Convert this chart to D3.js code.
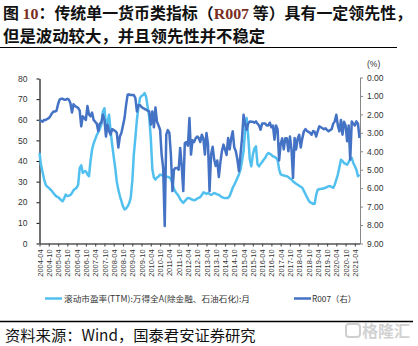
<!DOCTYPE html>
<html><head><meta charset="utf-8">
<script src="https://cdn.jsdelivr.net/npm/d3@7"></script>
<style>body{margin:0;background:#fff}svg{display:block}</style>
</head><body>
<script>
// Monthly values, 2004-04 .. 2021-07
const peValues = [
43.9,38,34.5,31,28.5,27.5,27,26.2,25.5,24.5,23.5,22.8,
22.5,21.8,21,20.5,22,23.7,23,23.2,23.5,24.5,25.8,26.5,
27,28.5,36.6,37.9,34.2,35,35,33.5,32.6,40,45.5,48.5,
50.5,52.5,54,55.5,57.6,64,65.6,57,59,62.4,54.4,48,
42,36.6,30,26,23,20.5,18,16.5,17,18,19.5,22.1,
30,43,51.1,60,66,70.5,71.5,72,72.9,71,66,61,
51.1,36,32,31,32,32.5,33.4,33.2,33,32.8,32.5,32.3,
32,31.4,29,26.5,25,24,23,21.5,20.5,19.7,20.5,21.5,
22.1,22,21.5,21.2,21,21.2,21.8,22.1,22.5,23.5,24.8,24.5,
24,24.5,24,23.6,24,24.5,24.2,23.8,23.6,23,22.5,22.2,
22,22.1,22.1,23,25,27,28.5,30,31.8,33.5,35.8,40,
44.7,55,60.8,52,41,37.4,43,46,47.1,38.5,37.4,38.5,
39.5,40.6,41.5,43,43.9,43.5,43,42.3,42,41.5,40.6,36,
33.5,33.2,33,32.8,32.6,32.2,31.5,31,30.2,29.5,29,28.5,
28,27.5,27,25.5,24,22.5,21,20,19.7,19.2,19.3,23.7,
26.1,26.3,26.5,26.5,26.8,27,27.4,27.8,27.8,27.4,27,28.5,
31,33.4,37,40.6,40,39,38.6,38.2,39.5,41,41.5,39,
37.5,35.8,32.6,33.4
];
const r007Values = [
2.29,2.35,2.4,2.3,2.3,2.25,2.2,2.1,1.95,1.85,1.85,1.8,
1.45,1.2,1.15,1.15,1.2,1.2,1.15,1.2,1.4,1.9,1.45,1.55,
1.6,1.65,1.8,2.65,2.1,2.2,2.3,1.55,2.0,2.1,1.9,2.3,
2.4,2.5,2.9,2.5,2.45,2.02,2.3,3.2,2.55,2.9,3.1,2.8,
2.85,2.9,3.0,3.8,3.2,3.0,2.6,2.2,1.5,0.94,0.92,0.95,
0.95,0.95,1.1,1.84,1.5,1.5,1.6,1.66,1.7,1.75,1.8,1.84,
2.56,1.84,2.7,1.62,2.4,2.6,2.83,4.18,4.9,8.05,3.1,2.85,
3.0,4.18,6.16,4.99,4.9,4.9,5.0,3.82,4.8,6.16,3.55,3.5,
3.7,2.2,4.18,3.4,3.5,3.3,3.2,3.28,3.5,3.1,3.3,4.18,
3.01,3.6,6.16,4.18,3.75,4.45,4.8,4.5,5.4,4.6,4.0,3.64,
3.9,4.2,3.28,3.9,3.3,2.92,3.8,4.0,4.45,5.08,4.2,3.3,
2.02,2.5,2.83,2.5,2.38,2.4,2.4,2.45,2.38,2.5,2.6,2.83,
2.5,2.5,2.5,2.6,2.6,2.45,2.7,2.6,3.37,2.6,2.8,4.5,
3.6,3.3,3.9,3.3,3.3,4.0,3.2,3.9,5.44,3.28,3.9,3.3,
3.1,3.8,3.3,2.92,2.8,2.9,2.95,3.0,3.1,2.9,2.95,3.2,
2.9,2.65,2.7,2.75,2.8,2.75,2.85,2.92,2.85,2.8,2.5,2.38,
2.02,2.6,2.92,2.3,3.1,2.4,2.6,3.46,2.6,4.45,2.38,2.5,
2.6,2.38,2.5,3.28
];
const tickLabels = ["2004-04","2004-10","2005-04","2005-10","2006-04","2006-10","2007-04","2007-10",
"2008-04","2008-10","2009-04","2009-10","2010-04","2010-10","2011-04","2011-10","2012-04","2012-10",
"2013-04","2013-10","2014-04","2014-10","2015-04","2015-10","2016-04","2016-10","2017-04","2017-10",
"2018-04","2018-10","2019-04","2019-10","2020-04","2020-10","2021-04"];
const leftTicks = [0,10,20,30,40,50,60,70,80];
const rightTicks = [0,1,2,3,4,5,6,7,8,9];
const seriesNames = ["滚动市盈率(TTM):万得全A(除金融、石油石化):月","R007（右）"];
const startYear = 2004, startMonth = 4;

const months = peValues.map((_, i) => {
  const t = (startMonth - 1) + i;
  return `${startYear + Math.floor(t / 12)}-${String(t % 12 + 1).padStart(2, "0")}`;
});

const W = 418, H = 346;
const svg = d3.select("body").append("svg").attr("width", W).attr("height", H);
svg.append("rect").attr("width", W).attr("height", H).attr("fill", "#fff");

const CJK = "'Noto Sans CJK SC','Noto Sans',sans-serif";
const SANS = "'Liberation Sans',Arial,sans-serif";

// Title
const t1 = svg.append("text").attr("x", 3).attr("y", 18.5)
  .attr("font-family", CJK).attr("font-weight", "bold").attr("font-size", 15.6).attr("fill", "#111")
  .attr("textLength", 409).attr("lengthAdjust", "spacingAndGlyphs");
t1.append("tspan").text("图 ");
t1.append("tspan").attr("font-family", "'Liberation Serif',serif").attr("fill", "#7a2e22").text("10");
t1.append("tspan").text("：传统单一货币类指标（");
t1.append("tspan").attr("font-family", "'Liberation Serif',serif").attr("fill", "#7a2e22").text("R007");
t1.append("tspan").text(" 等）具有一定领先性，");
svg.append("text").attr("x", 3).attr("y", 42)
  .attr("font-family", CJK).attr("font-weight", "bold").attr("font-size", 16.4).attr("fill", "#111")
  .text("但是波动较大，并且领先性并不稳定");
svg.append("line").attr("x1", 0).attr("x2", 397).attr("y1", 47.5).attr("y2", 47.5)
  .attr("stroke", "#000").attr("stroke-width", 1);

// Scales
const x = d3.scalePoint().domain(months).range([39.5, 359.5]);
const yL = d3.scaleLinear().domain([0, 80]).range([243.5, 78.5]);
const yR = d3.scaleLinear().domain([0, 9]).range([77.5, 243.5]);

// Left axis
const gL = svg.append("g").attr("transform", "translate(39.5,0)")
  .call(d3.axisLeft(yL).tickValues(leftTicks).tickSize(3).tickSizeOuter(0).tickPadding(9));
gL.select(".domain").attr("stroke", "#111").attr("stroke-width", 1.2);
gL.selectAll(".tick line").attr("stroke", "#111");
gL.selectAll("text").attr("font-family", SANS).attr("font-size", 8.5).attr("fill", "#333");

// Right axis
const gR = svg.append("g").attr("transform", "translate(360,0)")
  .call(d3.axisRight(yR).tickValues(rightTicks).tickSize(3).tickSizeOuter(0).tickPadding(4).tickFormat(d3.format(".2f")));
gR.select(".domain").attr("stroke", "#888").attr("stroke-width", 1);
gR.selectAll(".tick line").attr("stroke", "#888");
gR.selectAll("text").attr("font-family", SANS).attr("font-size", 8.5).attr("fill", "#333");
svg.append("text").attr("x", 367).attr("y", 67).attr("font-family", SANS)
  .attr("font-size", 8.5).attr("fill", "#333").text("(%)");

// Bottom axis
const gB = svg.append("g").attr("transform", "translate(0,243.5)")
  .call(d3.axisBottom(x).tickValues(tickLabels).tickSize(3).tickSizeOuter(0));
gB.select(".domain").attr("stroke", "#555").attr("stroke-width", 1.4);
gB.selectAll(".tick line").attr("stroke", "#555").attr("stroke-width", 1.2);
gB.selectAll("text").attr("transform", "rotate(-90)").attr("x", -6).attr("y", 0)
  .attr("dy", "0.35em").attr("text-anchor", "end")
  .attr("font-family", SANS).attr("font-size", 7.4).attr("fill", "#333");

// Lines
const lineL = d3.line().x((d, i) => x(months[i])).y(d => yL(d));
const lineR = d3.line().x((d, i) => x(months[i])).y(d => yR(d));
svg.append("path").datum(peValues).attr("d", lineL).attr("fill", "none")
  .attr("stroke", "#52c0ef").attr("stroke-width", 2.5).attr("stroke-linejoin", "round");
svg.append("path").datum(r007Values).attr("d", lineR).attr("fill", "none")
  .attr("stroke", "#4472c4").attr("stroke-width", 2.5).attr("stroke-linejoin", "round");

// Legend
svg.append("line").attr("x1", 45).attr("x2", 62).attr("y1", 298.5).attr("y2", 298.5)
  .attr("stroke", "#52c0ef").attr("stroke-width", 2.5);
svg.append("text").attr("x", 64).attr("y", 301.5).attr("font-family", CJK).attr("font-size", 8.3)
  .attr("fill", "#333").attr("textLength", 186).attr("lengthAdjust", "spacingAndGlyphs").text(seriesNames[0]);
svg.append("line").attr("x1", 294).attr("x2", 311).attr("y1", 298.5).attr("y2", 298.5)
  .attr("stroke", "#4472c4").attr("stroke-width", 2.5);
svg.append("text").attr("x", 312).attr("y", 301.5).attr("font-family", CJK).attr("font-size", 8.3)
  .attr("fill", "#333").text(seriesNames[1]);

// Footer
svg.append("line").attr("x1", 0).attr("x2", 413).attr("y1", 321.5).attr("y2", 321.5)
  .attr("stroke", "#000").attr("stroke-width", 1.5);
svg.append("text").attr("x", 5).attr("y", 341).attr("font-family", CJK).attr("font-size", 15.3)
  .attr("fill", "#111").text("资料来源：Wind，国泰君安证券研究");

// Watermark
svg.append("rect").attr("x", 346).attr("y", 324).attr("width", 14).attr("height", 13).attr("rx", 3)
  .attr("fill", "none").attr("stroke", "#cfcfcf").attr("stroke-width", 2);
svg.append("text").attr("x", 362).attr("y", 337).attr("font-family", CJK).attr("font-weight", "bold")
  .attr("font-size", 16).attr("fill", "#d2d2d2").text("格隆汇");
</script>
</body></html>
